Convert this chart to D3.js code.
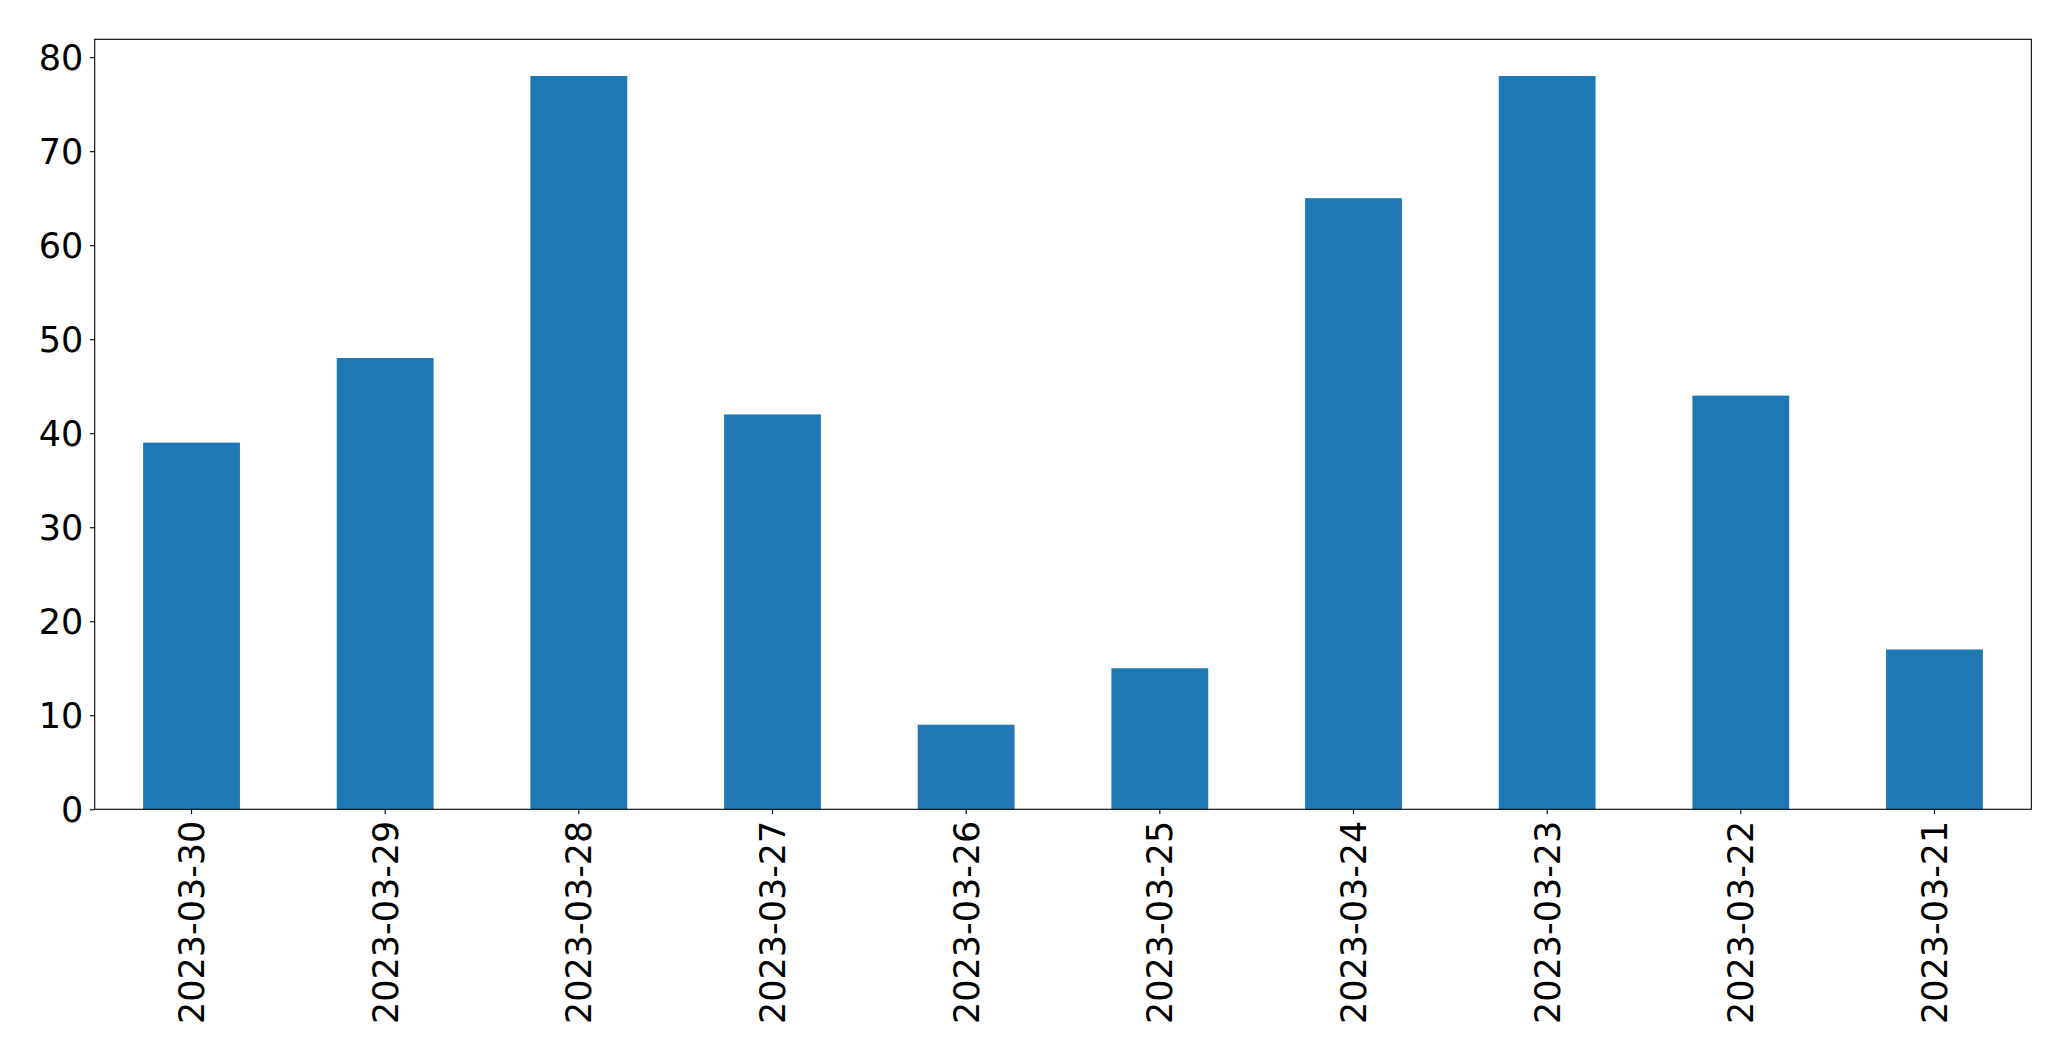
<!DOCTYPE html>
<html>
<head>
<meta charset="utf-8">
<script src="https://cdn.jsdelivr.net/npm/d3@7"></script>
<style>
  body { margin: 0; background: #fff; }
  text { font-family: "DejaVu Sans", sans-serif; }
</style>
</head>
<body>
<div id="chart"></div>
<script>
  const dates = ['2023-03-30', '2023-03-29', '2023-03-28', '2023-03-27', '2023-03-26',
                 '2023-03-25', '2023-03-24', '2023-03-23', '2023-03-22', '2023-03-21'];
  const counts = [39, 48, 78, 42, 9, 15, 65, 78, 44, 17];
  const yTicks = [0, 10, 20, 30, 40, 50, 60, 70, 80];

  const width = 2071;
  const height = 1061;
  const plot = { left: 94.7, right: 2031.3, top: 39.3, bottom: 809.3 };
  const tickLen = 4.86;

  const svg = d3.select('#chart')
    .append('svg')
    .attr('width', width)
    .attr('height', height);

  const x = d3.scaleBand()
    .domain(dates)
    .range([plot.left, plot.right])
    .paddingInner(0.5)
    .paddingOuter(0.25);

  const y = d3.scaleLinear()
    .domain([0, d3.max(counts) * 1.05])
    .range([plot.bottom, plot.top]);

  svg.append('g')
    .attr('fill', '#1f77b4')
    .selectAll('rect')
    .data(dates)
    .join('rect')
      .attr('x', d => x(d))
      .attr('y', (d, i) => y(counts[i]))
      .attr('width', x.bandwidth())
      .attr('height', (d, i) => y(0) - y(counts[i]));

  function yAxis(g) {
    g.attr('transform', `translate(${plot.left},0)`)
      .call(d3.axisLeft(y).tickValues(yTicks).tickSize(tickLen).tickPadding(6.5))
      .attr('font-size', '35px');
    g.select('.domain').remove();
    g.selectAll('.tick line').attr('stroke-width', 1.1);
    g.selectAll('.tick text').attr('fill', '#000').attr('dy', '0.36em');
  }

  function xAxis(g) {
    g.attr('transform', `translate(0,${plot.bottom})`)
      .call(d3.axisBottom(x).tickSize(tickLen))
      .attr('font-size', '35px');
    g.select('.domain').remove();
    g.selectAll('.tick line').attr('stroke-width', 1.1);
    g.selectAll('.tick text')
      .attr('fill', '#000')
      .attr('transform', 'rotate(-90)')
      .attr('text-anchor', 'end')
      .attr('x', -(tickLen + 6.5))
      .attr('y', 0)
      .attr('dy', '0.36em');
  }

  svg.append('g').call(xAxis);
  svg.append('g').call(yAxis);

  // frame around plot area
  svg.append('rect')
    .attr('x', plot.left)
    .attr('y', plot.top)
    .attr('width', plot.right - plot.left)
    .attr('height', plot.bottom - plot.top)
    .attr('fill', 'none')
    .attr('stroke', '#000')
    .attr('stroke-width', 1.1);
</script>
</body>
</html>
